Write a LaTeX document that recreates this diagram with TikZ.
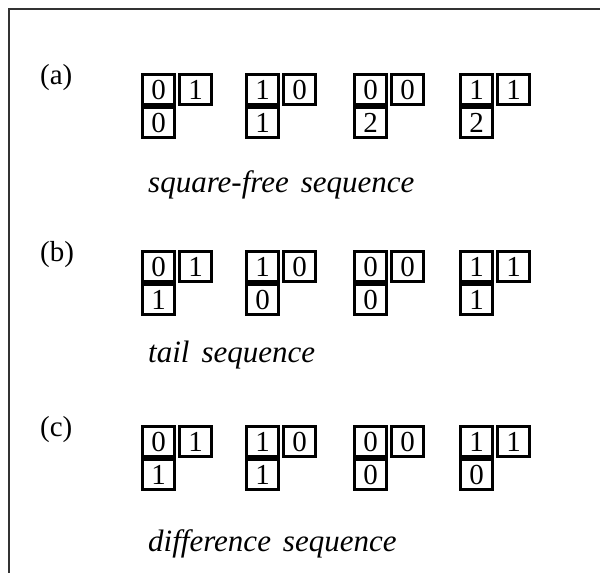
\documentclass[tikz,border=0pt]{standalone}
\usepackage{fontspec}
\setmainfont{Liberation Serif}
\begin{document}
\begin{tikzpicture}[x=1pt,y=-1pt,
  cell/.style={draw=black,line width=2.8pt,minimum width=32.5pt,minimum height=30.5pt,
    inner sep=0pt,font=\fontsize{29}{29}\selectfont},
  tag/.style={anchor=north west,inner sep=0pt,font=\fontsize{29}{29}\selectfont},
  caption/.style={anchor=base west,inner sep=0pt,font=\fontsize{31}{31}\selectfont\itshape},
  frame/.style={draw=black!80,line width=1.2pt}]
\useasboundingbox (0,0) rectangle (600,573);
\draw[frame] (9,573) -- (9,9) -- (600,9);

% one group: two cells on top, one cell below the first
% #1 name, #2 left x, #3 top y, #4 #5 top digits, #6 bottom digit
\newcommand{\cellgroup}[6]{%
  \node[cell] (#1t1) at (#2+17.5,#3+16.5) {#4};
  \node[cell] (#1t2) at (#2+54.5,#3+16.5) {#5};
  \node[cell] (#1b)  at (#2+17.5,#3+49.5) {#6};
}

% (a) square-free sequence
\node[tag] (la) at (40,64) {(a)};
\cellgroup{a1}{141}{73}{0}{1}{0}
\cellgroup{a2}{245}{73}{1}{0}{1}
\cellgroup{a3}{353}{73}{0}{0}{2}
\cellgroup{a4}{459}{73}{1}{1}{2}
\node[caption] (ca) at (148,192) {square-free\hspace{12pt}sequence};

% (b) tail sequence
\node[tag] (lb) at (40,241) {(b)};
\cellgroup{b1}{141}{250}{0}{1}{1}
\cellgroup{b2}{245}{250}{1}{0}{0}
\cellgroup{b3}{353}{250}{0}{0}{0}
\cellgroup{b4}{459}{250}{1}{1}{1}
\node[caption] (cb) at (148,362) {tail\hspace{12pt}sequence};

% (c) difference sequence
\node[tag] (lc) at (40,416) {(c)};
\cellgroup{c1}{141}{425}{0}{1}{1}
\cellgroup{c2}{245}{425}{1}{0}{1}
\cellgroup{c3}{353}{425}{0}{0}{0}
\cellgroup{c4}{459}{425}{1}{1}{0}
\node[caption] (cc) at (148,551) {difference\hspace{12pt}sequence};
\end{tikzpicture}
\end{document}
